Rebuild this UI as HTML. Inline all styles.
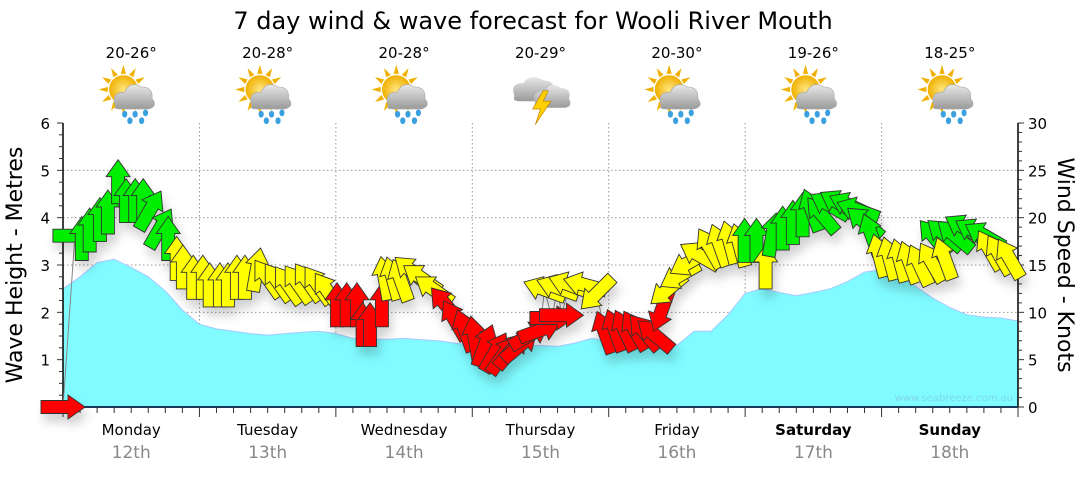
<!DOCTYPE html>
<html><head><meta charset="utf-8"><style>
body{margin:0;background:#fff;width:1080px;height:475px;overflow:hidden;font-family:"Liberation Sans","DejaVu Sans",sans-serif}
svg text{font-family:"DejaVu Sans","Liberation Sans",sans-serif}
</style></head><body>
<svg id="chart" width="1080" height="475" viewBox="0 0 1080 475" xmlns="http://www.w3.org/2000/svg">
<defs>
<filter id="sh" x="-50%" y="-50%" width="200%" height="200%"><feDropShadow dx="3" dy="8" stdDeviation="5" flood-color="#000" flood-opacity="0.18"/></filter>
<radialGradient id="sun" cx="0.5" cy="0.5" r="0.5"><stop offset="0" stop-color="#ffe680"/><stop offset="1" stop-color="#f0b000"/></radialGradient>
<linearGradient id="cloud" x1="0" y1="0" x2="0" y2="1"><stop offset="0" stop-color="#e8e8e8"/><stop offset="1" stop-color="#9a9a9a"/></linearGradient>
</defs>
<text x="533" y="29" font-size="24" text-anchor="middle" fill="#000">7 day wind &amp; wave forecast for Wooli River Mouth</text>
<g id="grid"></g>
<path id="wave" fill="#80fbff" stroke="#a8c8ff" stroke-width="1"/>
<g id="axes"></g>
<text x="1013" y="401" font-size="10" text-anchor="end" fill="#7fd8e6">www.seabreeze.com.au</text>
<g id="windline"></g>
<g id="arrows" filter="url(#sh)"></g>
<g id="weather"></g>
<text transform="translate(22,265) rotate(-90)" font-size="22" text-anchor="middle">Wave Height - Metres</text>
<text transform="translate(1058,265) rotate(90)" font-size="22" text-anchor="middle">Wind Speed - Knots</text>
</svg>
<script>
const days=["Monday","Tuesday","Wednesday","Thursday","Friday","Saturday","Sunday"];
const dates=["12th","13th","14th","15th","16th","17th","18th"];
const temps=["20-26°","20-28°","20-28°","20-29°","20-30°","19-26°","18-25°"];
const icons=["rain","rain","rain","storm","rain","rain","rain"];
const waveHeights=[2.5,2.75,3.05,3.12,2.95,2.75,2.45,2.05,1.75,1.65,1.6,1.55,1.52,1.55,1.58,1.6,1.55,1.45,1.43,1.43,1.45,1.42,1.4,1.35,1.3,1.28,1.25,1.3,1.3,1.28,1.35,1.45,1.4,1.35,1.3,1.3,1.3,1.6,1.6,1.95,2.4,2.5,2.42,2.35,2.42,2.5,2.65,2.85,2.9,2.8,2.55,2.3,2.1,1.95,1.9,1.88,1.82];
const windHours=[0,2.1,3.3,4.7,6.5,7.9,9.7,11.1,12.7,14.1,15.3,17.1,18.5,20.0,21.1,22.9,24.6,25.8,27.6,29.0,30.6,32.0,34.1,36.0,37.8,39.6,41.3,43.1,44.8,46.6,48.2,49.9,51.7,52.7,54.0,56.1,56.6,58.0,59.4,61.4,63.1,65.2,67.3,68.9,70.7,72.4,74.2,76.0,77.4,78.9,80.4,82.1,83.9,84.7,86.0,87.0,87.7,89.1,91.8,93.9,95.3,97.1,98.8,100.6,102.3,104.1,105.3,106.4,108.5,110.2,112.0,113.8,115.5,117.3,119.0,119.9,122.0,123.6,124.8,126.6,128.4,130.1,131.7,133.5,134.9,136.6,138.4,139.8,141.0,142.2,143.6,145.4,147.2,148.9,150.7,152.8,153.3,155.1,155.1,156.9,158.6,160.4,162.1,163.0,164.7,166.5];
const windSpeeds=[0,18.1,17.8,18.7,19.8,20.6,23.8,21.8,21.8,21.8,20.8,18.9,17.8,15.7,14.8,13.7,13.7,12.9,12.9,12.9,13.7,13.7,14.5,13.6,13.2,12.9,13.0,13.2,12.9,12.2,10.8,10.8,10.8,8.7,8.7,10.8,13.6,13.6,13.4,14.3,13.6,12.4,10.8,9.2,8.1,7.3,6.5,5.8,5.5,6.0,6.5,7.6,8.1,12.4,9.4,12.6,9.7,12.9,12.9,12.0,7.9,8.1,8.1,8.1,7.9,7.6,10.2,12.4,13.9,15.3,16.0,16.8,17.1,17.4,17.1,17.6,17.6,14.8,18.2,18.9,19.5,20.3,20.8,20.3,21.3,21.5,21.3,20.8,19.5,18.2,16.0,15.7,15.5,15.3,15.0,15.3,17.9,15.7,18.2,18.1,18.9,18.5,18.1,16.6,16.1,15.7];
const windDirs=[90,90,0,0,0,0,0,0,0,0,30,30,0,0,0,0,0,0,0,0,0,0,10,-35,-35,-35,-35,-35,-35,-35,0,0,0,0,0,0,-10,-15,-20,-50,-55,-55,-40,-30,-20,-10,20,30,35,40,50,60,70,-70,90,-70,90,-70,-75,225,-20,-20,-25,-30,-40,-50,200,230,240,240,-60,-30,-20,-15,-15,0,0,0,10,0,0,0,-20,-40,-60,-60,-65,-70,-50,-20,-15,-15,-15,-20,-25,-30,-40,-20,-50,-50,-60,-60,-60,-30,-30,-30];

const NS="http://www.w3.org/2000/svg";
const X0=63,X1=1018,YB=407,YT=123;
const xH=h=>X0+(X1-X0)*h/168;
const yM=m=>YB-(YB-YT)*m/6;
const yK=k=>YB-(YB-YT)*k/30;
function mk(tag,attrs,parent,txt){const e=document.createElementNS(NS,tag);for(const k in attrs)e.setAttribute(k,attrs[k]);if(txt!==undefined)e.textContent=txt;parent.appendChild(e);return e;}
const grid=document.getElementById('grid'),axes=document.getElementById('axes');
for(let m=1;m<=5;m++){const l=mk('line',{x1:X0,x2:X1,y1:yM(m),y2:yM(m),stroke:'#999','stroke-width':1,'stroke-dasharray':'1.5,2.5'},grid);

}
for(let d=1;d<7;d++){const l=mk('line',{x1:xH(d*24),x2:xH(d*24),y1:YT,y2:YB,stroke:'#999','stroke-width':1,'stroke-dasharray':'1.5,2.5'},grid);

}
let p=`M${X0},${YB}`;waveHeights.forEach((v,i)=>{p+=` L${xH(i*3).toFixed(1)},${yM(v).toFixed(1)}`});p+=` L${X1},${YB} Z`;
document.getElementById('wave').setAttribute('d',p);
mk('line',{x1:X0,x2:X0,y1:YT,y2:YB,stroke:'#000','stroke-width':1.5},axes);
mk('line',{x1:X1,x2:X1,y1:YT,y2:YB,stroke:'#000','stroke-width':1.5},axes);
mk('line',{x1:X0,x2:X1,y1:YB,y2:YB,stroke:'#1a3a5a','stroke-width':2},axes);
for(let i=0;i<=24;i++){const y=yM(i/4);mk('line',{x1:X0-(i%4?4:6),x2:X0,y1:y,y2:y,stroke:'#333'},axes);}
for(let m=0;m<=6;m++){const t=mk('text',{x:X0-13,y:yM(m)+6,'font-size':15,'text-anchor':'end'},axes,String(m));

}
for(let k=0;k<=30;k++){const y=yK(k);mk('line',{x1:X1,x2:X1+(k%5?4:6),y1:y,y2:y,stroke:'#333'},axes);}
for(let k=0;k<=30;k+=5){const t=mk('text',{x:X1+10,y:yK(k)+6,'font-size':15},axes,String(k));

}
for(let h=0;h<=168;h+=3){const x=xH(h);mk('line',{x1:x,x2:x,y1:YB,y2:YB+(h%24?6:10),stroke:'#333'},axes);}
days.forEach((d,i)=>{const cx=xH(i*24+12);
const t=mk('text',{x:cx,y:435,'font-size':15,'text-anchor':'middle','font-weight':i>=5?'bold':'normal'},axes,d);


const t2=mk('text',{x:cx,y:458,'font-size':17,'text-anchor':'middle',fill:'#888'},axes,dates[i]);


const t3=mk('text',{x:cx,y:58,'font-size':15,'text-anchor':'middle'},document.getElementById('weather'),temps[i]);


drawIcon(cx,96,icons[i]);
});
function drawIcon(cx,cy,type){const g=mk('g',{transform:`translate(${cx},${cy}) scale(1.3)`},document.getElementById('weather'));


if(type==='rain'){
for(let a=0;a<360;a+=30){mk('path',{d:'M-2,-12 L0,-19 L2,-12 Z',fill:'#f0b000',transform:`translate(-6,-5) rotate(${a})`},g);}
mk('circle',{cx:-6,cy:-5,r:11,fill:'url(#sun)'},g);
mk('path',{d:'M-12,8 Q-16,-3 -5,-3 Q-1,-12 8,-7 Q17,-7 16,2 Q21,8 13,10 L-8,10 Q-14,10 -12,8 Z',fill:'url(#cloud)',stroke:'#aaa','stroke-width':0.5},g);
[[-5,14],[3,14],[11,13],[-1,19],[8,19]].forEach(d=>mk('ellipse',{cx:d[0],cy:d[1],rx:2,ry:2.6,fill:'#3aa0e0'},g));
}else{
mk('path',{d:'M-20,0 Q-24,-10 -13,-10 Q-8,-18 2,-12 Q12,-12 10,-2 Q12,4 6,4 L-16,4 Q-22,4 -20,0 Z',fill:'url(#cloud)'},g);
mk('path',{d:'M-4,6 Q-8,-4 4,-4 Q8,-12 16,-6 Q24,-6 22,2 Q25,8 19,9 L0,9 Q-6,9 -4,6 Z',fill:'url(#cloud)'},g);
mk('path',{d:'M2,-4 L-6,10 L0,10 L-4,22 L8,4 L2,4 L6,-4 Z',fill:'#ffd000',stroke:'#c08000','stroke-width':0.5},g);
}}
let lp='';windHours.forEach((h,i)=>{lp+=(i?' L':'M')+xH(h).toFixed(1)+','+Math.min(yK(windSpeeds[i]),418).toFixed(1)});
const wl=mk('path',{d:lp,fill:'none',stroke:'#888','stroke-width':1},document.getElementById('windline'));


const ag=document.getElementById('arrows');
windHours.forEach((h,i)=>{const s=windSpeeds[i];const col=s<11.5?'#ff0000':(s<17.5?'#ffff00':'#00ee00');
const y=Math.min(yK(s),418);
const a=mk('path',{d:'M0,-22 L12,-5 L6.5,-5 L6.5,22 L-6.5,22 L-6.5,-5 L-12,-5 Z',fill:col,stroke:'#333','stroke-width':0.9,'stroke-linejoin':'miter',transform:`translate(${xH(h).toFixed(1)},${y.toFixed(1)}) rotate(${windDirs[i]})`},ag);


});
</script>
</body></html>
